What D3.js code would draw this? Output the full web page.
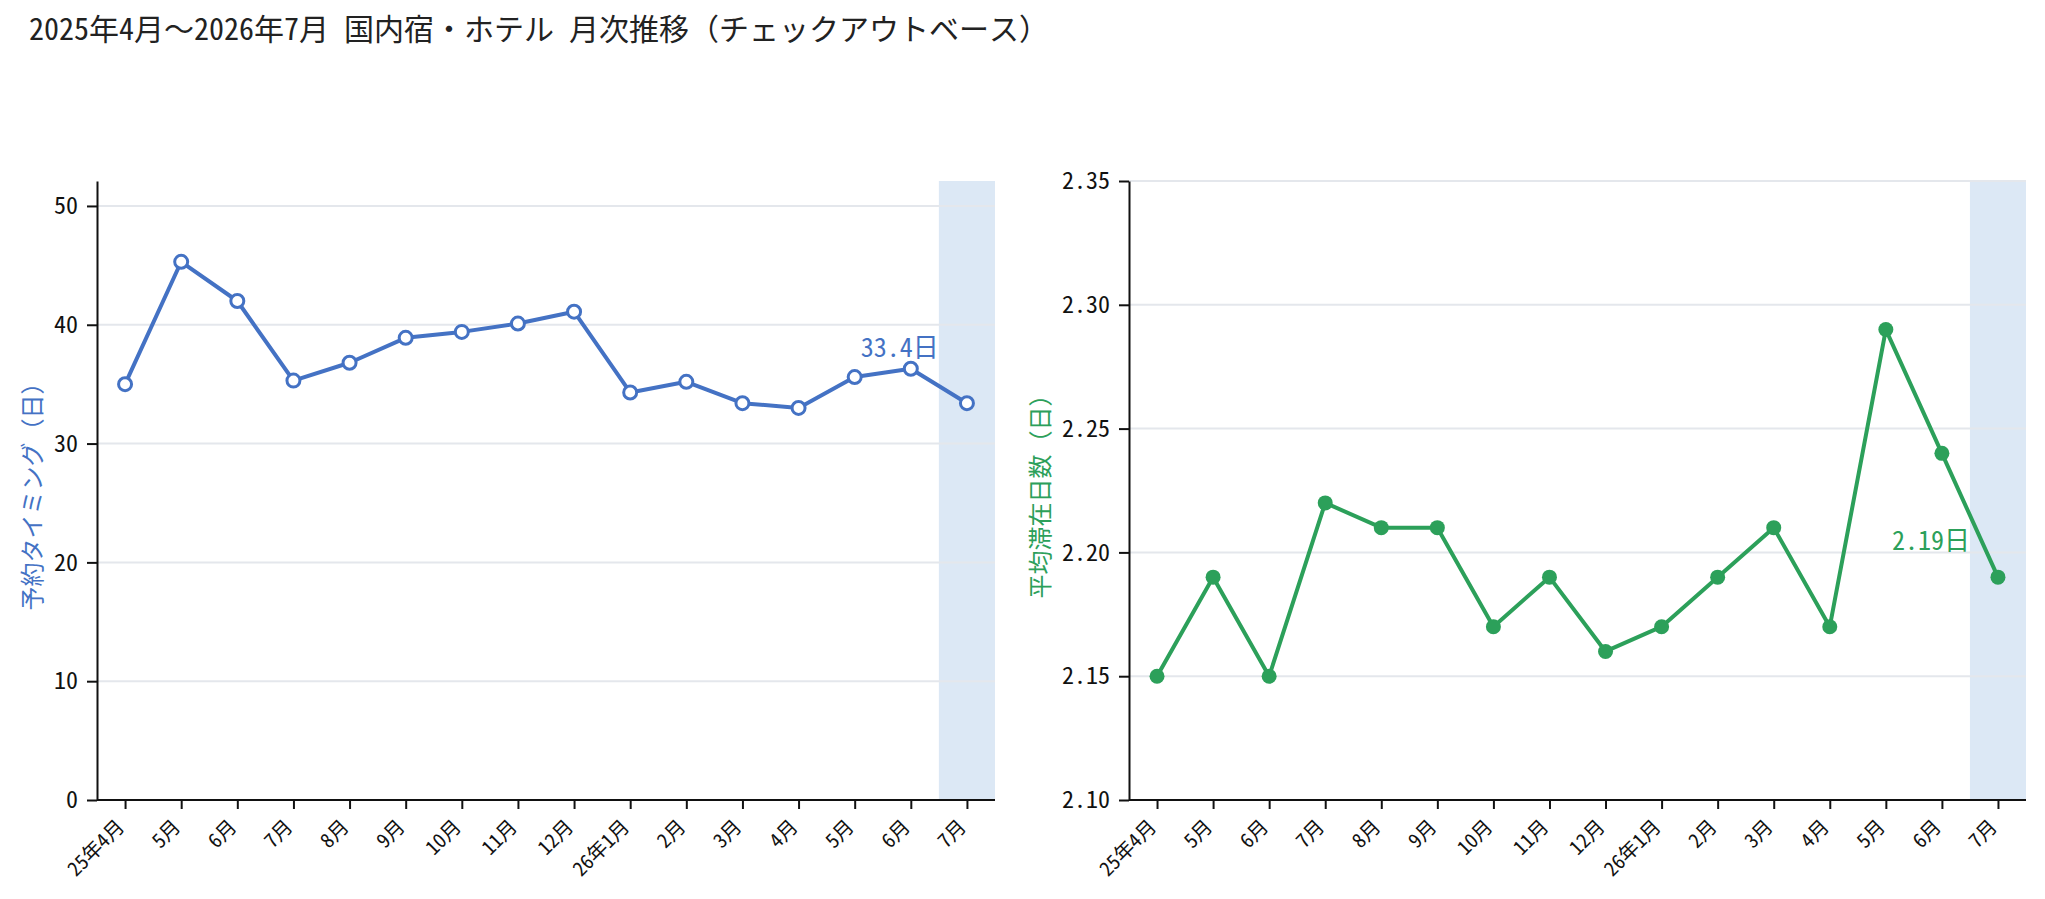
<!DOCTYPE html>
<html>
<head>
<meta charset="utf-8">
<script src="https://cdn.jsdelivr.net/npm/d3@7"></script>
<style>
  body { margin: 0; background: #fff; }
  svg { font-family: "Noto Sans Mono CJK JP", "Noto Sans CJK JP", sans-serif; }
</style>
</head>
<body>
<script>
// data
var months = ["25年4月", "5月", "6月", "7月", "8月", "9月", "10月", "11月", "12月",
              "26年1月", "2月", "3月", "4月", "5月", "6月", "7月"]
var leadDays = [35.0, 45.3, 42.0, 35.3, 36.8, 38.9, 39.4, 40.1, 41.1, 34.3, 35.2, 33.4, 33.0, 35.6, 36.3, 33.4]
var stayDays = [2.15, 2.19, 2.15, 2.22, 2.21, 2.21, 2.17, 2.19, 2.16, 2.17, 2.19, 2.21, 2.17, 2.29, 2.24, 2.19]
var leadTicks = [0, 10, 20, 30, 40, 50]
var stayTicks = [2.10, 2.15, 2.20, 2.25, 2.30, 2.35]

var title = "2025年4月～2026年7月 国内宿・ホテル 月次推移（チェックアウトベース）"

var W = 2045, H = 899
var plotTop = 181, plotBottom = 800

var svg = d3.select("body").append("svg")
    .attr("width", W)
    .attr("height", H)

svg.append("text")
    .attr("x", 29)
    .attr("y", 40)
    .attr("font-size", 30)
    .attr("fill", "#222")
    .text(title)

function panel(opt) {
    var g = svg.append("g")
    var x = d3.scalePoint().domain(d3.range(months.length)).range([opt.left, opt.right]).padding(0.5)
    var step = x.step()
    var y = d3.scaleLinear().domain(opt.domain).range([plotBottom, plotTop])

    // last month shading
    var last = months.length - 1
    g.append("rect")
        .attr("x", x(last) - step / 2)
        .attr("y", plotTop)
        .attr("width", opt.right - (x(last) - step / 2))
        .attr("height", plotBottom - plotTop)
        .attr("fill", "#dce8f5")

    // grid
    g.selectAll(".grid").data(opt.ticks.slice(1)).enter()
        .append("line")
        .attr("x1", opt.left)
        .attr("x2", opt.right)
        .attr("y1", function (d) { return y(d) })
        .attr("y2", function (d) { return y(d) })
        .attr("stroke", "#e4e7ec")
        .attr("stroke-width", 2)

    var yAxis = d3.axisLeft(y)
        .tickValues(opt.ticks)
        .tickFormat(opt.fmt)
        .tickSize(10)
        .tickSizeOuter(0)
        .tickPadding(9)
    var ya = g.append("g")
        .attr("transform", "translate(" + opt.left + ",0)")
        .call(yAxis)
        .attr("font-family", null)
    ya.selectAll("text").attr("font-size", 24).attr("fill", "#111")
    ya.selectAll("line, path").attr("stroke", "#111").attr("stroke-width", 2)

    var xAxis = d3.axisBottom(x)
        .tickFormat(function (i) { return months[i] })
        .tickSize(9)
        .tickSizeOuter(0)
    var xa = g.append("g")
        .attr("transform", "translate(0," + plotBottom + ")")
        .call(xAxis)
        .attr("font-family", null)
    xa.select(".domain").attr("d", "M" + opt.left + ",0H" + opt.right)
    xa.selectAll("line, path").attr("stroke", "#111").attr("stroke-width", 2)
    xa.selectAll("text")
        .attr("font-size", 20)
        .attr("fill", "#111")
        .attr("text-anchor", "end")
        .attr("dominant-baseline", "central")
        .attr("dy", null)
        .attr("y", 0)
        .attr("transform", "translate(-6,22) rotate(-45)")

    // y label
    g.append("text")
        .attr("transform", "translate(" + opt.labelX + "," + ((plotTop + plotBottom) / 2) + ") rotate(-90)")
        .attr("text-anchor", "middle")
        .attr("dominant-baseline", "central")
        .attr("font-size", 24)
        .attr("fill", opt.color)
        .text(opt.label)

    var line = d3.line()
        .x(function (d, i) { return x(i) })
        .y(function (d) { return y(d) })

    g.append("path")
        .datum(opt.values)
        .attr("d", line)
        .attr("fill", "none")
        .attr("stroke", opt.color)
        .attr("stroke-width", 4)
        .attr("stroke-linejoin", "round")

    g.selectAll(".pt").data(opt.values).enter()
        .append("circle")
        .attr("cx", function (d, i) { return x(i) })
        .attr("cy", function (d) { return y(d) })
        .attr("r", opt.hollow ? 6.5 : 7.5)
        .attr("fill", opt.hollow ? "#fff" : opt.color)
        .attr("stroke", opt.color)
        .attr("stroke-width", opt.hollow ? 3 : 0)

    // last value note
    g.append("text")
        .attr("x", x(last) - step / 2)
        .attr("y", y(opt.values[last]) - opt.noteDy)
        .attr("text-anchor", "end")
        .attr("dominant-baseline", "central")
        .attr("font-size", 26)
        .attr("fill", opt.color)
        .text(opt.fmtNote(opt.values[last]) + "日")
}

panel({
    left: 97, right: 995,
    domain: [0, 52.1],
    ticks: leadTicks,
    fmt: d3.format("d"),
    values: leadDays,
    color: "#4472c4",
    hollow: true,
    label: "予約タイミング（日）",
    labelX: 30,
    noteDy: 58,
    fmtNote: d3.format(".1f")
})

panel({
    left: 1129, right: 2026,
    domain: [2.10, 2.35],
    ticks: stayTicks,
    fmt: d3.format(".2f"),
    values: stayDays,
    color: "#2ca05a",
    hollow: false,
    label: "平均滞在日数（日）",
    labelX: 1038,
    noteDy: 39,
    fmtNote: d3.format(".2f")
})
</script>
</body>
</html>
